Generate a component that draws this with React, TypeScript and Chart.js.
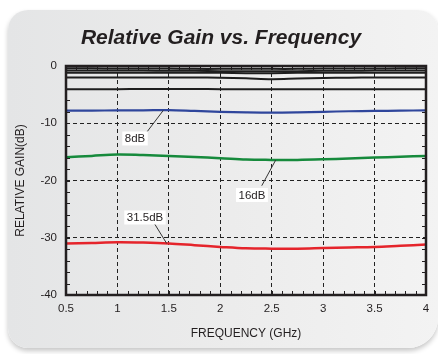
import React, { useEffect, useRef } from "react";
import { Chart, registerables } from "chart.js";

Chart.register(...registerables);

const TITLE = "Relative Gain vs. Frequency";
const X_TITLE = "FREQUENCY (GHz)";
const Y_TITLE = "RELATIVE GAIN(dB)";

const FREQ = [0.5, 0.75, 1.0, 1.25, 1.5, 1.75, 2.0, 2.25, 2.5, 2.75, 3.0, 3.25, 3.5, 3.75, 4.0];

const GAIN_05 = [-0.4, -0.4, -0.45, -0.45, -0.45, -0.5, -0.5, -0.5, -0.5, -0.5, -0.45, -0.45, -0.45, -0.4, -0.4];
const GAIN_1 = [-0.8, -0.8, -0.8, -0.8, -0.85, -0.85, -0.9, -0.9, -0.9, -0.9, -0.85, -0.85, -0.8, -0.8, -0.8];
const GAIN_15 = [-1.2, -1.2, -1.2, -1.2, -1.2, -1.2, -1.2, -1.25, -1.25, -1.2, -1.2, -1.2, -1.2, -1.2, -1.2];
const GAIN_2 = [-2.0, -2.0, -2.0, -2.0, -2.0, -2.0, -2.05, -2.15, -2.3, -2.2, -2.1, -2.05, -2.0, -2.0, -2.0];
const GAIN_4 = [-4.05, -4.05, -4.05, -4.0, -4.0, -4.0, -4.05, -4.05, -4.05, -4.05, -4.05, -4.05, -4.05, -4.05, -4.05];
const GAIN_8 = [-7.8, -7.8, -7.75, -7.75, -7.7, -7.85, -8.0, -8.1, -8.15, -8.1, -8.0, -7.9, -7.85, -7.8, -7.75];
const GAIN_16 = [-15.95, -15.7, -15.45, -15.55, -15.7, -15.9, -16.1, -16.35, -16.4, -16.4, -16.3, -16.15, -16.0, -15.85, -15.7];
const GAIN_315 = [-31.0, -30.9, -30.8, -30.85, -31.0, -31.3, -31.6, -31.85, -31.9, -31.9, -31.8, -31.7, -31.6, -31.4, -31.2];

const X_MIN = 0.5;
const X_MAX = 4;
const X_STEP = 0.5;
const X_MINOR = 0.1;
const Y_MIN = -40;
const Y_MAX = 0;
const Y_STEP = 10;
const Y_MINOR = 2;

const LABEL_TEXT = ["8dB", "16dB", "31.5dB"];
const LABEL_X = [1.171, 2.308, 1.268];
const LABEL_Y = [-12.66, -22.53, -26.46];
const LEADER_FROM_X = [1.29, 2.403, 1.358];
const LEADER_FROM_Y = [-11.45, -20.91, -27.48];
const LEADER_TO_X = [1.446, 2.539, 1.479];
const LEADER_TO_Y = [-7.75, -16.42, -31.0];

const FONT = "'Liberation Sans', Arial, Helvetica, sans-serif";
const INK = "#231f20";

function pts(ys: number[]) {
  return FREQ.map((x, i) => ({ x, y: ys[i] }));
}

const framePlugin = {
  id: "frameAndLabels",
  afterDatasetsDraw(chart: any) {
    const { ctx, chartArea, scales } = chart;
    const xs = scales.x;
    const ys = scales.y;
    const { left, right, top, bottom } = chartArea;
    ctx.save();
    ctx.strokeStyle = INK;
    ctx.lineWidth = 1;
    ctx.beginPath();
    const nx = Math.round((X_MAX - X_MIN) / X_MINOR);
    for (let i = 1; i < nx; i++) {
      const px = Math.round(xs.getPixelForValue(X_MIN + i * X_MINOR)) + 0.5;
      ctx.moveTo(px, bottom);
      ctx.lineTo(px, bottom - 4);
      ctx.moveTo(px, top);
      ctx.lineTo(px, top + 4);
    }
    const ny = Math.round((Y_MAX - Y_MIN) / Y_MINOR);
    for (let i = 1; i < ny; i++) {
      const py = Math.round(ys.getPixelForValue(Y_MIN + i * Y_MINOR)) + 0.5;
      ctx.moveTo(left, py);
      ctx.lineTo(left + 4, py);
      ctx.moveTo(right, py);
      ctx.lineTo(right - 4, py);
    }
    ctx.stroke();
    ctx.lineWidth = 2.5;
    ctx.strokeStyle = INK;
    ctx.strokeRect(left, top, right - left, bottom - top);
    ctx.font = `11.5px ${FONT}`;
    ctx.textAlign = "center";
    ctx.textBaseline = "middle";
    for (let i = 0; i < LABEL_TEXT.length; i++) {
      const fx = xs.getPixelForValue(LEADER_FROM_X[i]);
      const fy = ys.getPixelForValue(LEADER_FROM_Y[i]);
      const tx = xs.getPixelForValue(LEADER_TO_X[i]);
      const ty = ys.getPixelForValue(LEADER_TO_Y[i]);
      ctx.strokeStyle = "#333";
      ctx.lineWidth = 1;
      ctx.beginPath();
      ctx.moveTo(fx, fy);
      ctx.lineTo(tx, ty);
      ctx.stroke();
      const cx = xs.getPixelForValue(LABEL_X[i]);
      const cy = ys.getPixelForValue(LABEL_Y[i]);
      const w = ctx.measureText(LABEL_TEXT[i]).width + 5;
      const h = 14;
      ctx.fillStyle = "#ffffff";
      ctx.fillRect(cx - w / 2, cy - h / 2, w, h);
      ctx.fillStyle = INK;
      ctx.fillText(LABEL_TEXT[i], cx, cy + 0.5);
    }
    ctx.restore();
  },
};

export default function App() {
  const ref = useRef<HTMLCanvasElement | null>(null);

  useEffect(() => {
    document.body.style.margin = "0";
    const canvas = ref.current;
    if (!canvas) return;
    const line = (label: string, data: number[], color: string, width: number) => ({
      label,
      data: pts(data),
      borderColor: color,
      backgroundColor: color,
      borderWidth: width,
      pointRadius: 0,
      tension: 0.35,
      fill: false,
    });
    const chart = new Chart(canvas, {
      type: "line",
      data: {
        datasets: [
          line("0.5dB", GAIN_05, "#1e1e1e", 2),
          line("1dB", GAIN_1, "#1e1e1e", 2),
          line("1.5dB", GAIN_15, "#1e1e1e", 2),
          line("2dB", GAIN_2, "#1e1e1e", 2),
          line("4dB", GAIN_4, "#1e1e1e", 2),
          line("8dB", GAIN_8, "#2f469c", 2.2),
          line("16dB", GAIN_16, "#168a3c", 2.5),
          line("31.5dB", GAIN_315, "#e5242b", 2.5),
        ],
      },
      options: {
        responsive: false,
        animation: false,
        layout: { padding: { left: 16, right: 12, top: 0, bottom: 0 } },
        plugins: {
          legend: { display: false },
          tooltip: { enabled: false },
          title: {
            display: true,
            text: TITLE,
            color: INK,
            font: { family: FONT, size: 21, weight: "bold", style: "italic", lineHeight: 1.2 },
            padding: { top: 25.4, bottom: 15.4 },
          },
        },
        scales: {
          x: {
            type: "linear",
            min: X_MIN,
            max: X_MAX,
            afterFit: (s: any) => {
              s.height = 59;
            },
            ticks: {
              stepSize: X_STEP,
              color: INK,
              font: { family: FONT, size: 11.5 },
              padding: 7,
              maxRotation: 0,
              autoSkip: false,
              callback: (v: any) => String(Number(v)),
            },
            grid: {
              drawTicks: false,
              color: (c: any) =>
                c.tick && (c.tick.value === X_MIN || c.tick.value === X_MAX) ? "rgba(0,0,0,0)" : "#222",
              lineWidth: 1,
            },
            border: { display: false, dash: [4, 3] },
            title: {
              display: true,
              text: X_TITLE,
              color: INK,
              font: { family: FONT, size: 12 },
              padding: { top: 0, bottom: 12.8 },
            },
          },
          y: {
            type: "linear",
            min: Y_MIN,
            max: Y_MAX,
            afterFit: (s: any) => {
              s.width = 50;
            },
            ticks: {
              stepSize: Y_STEP,
              color: INK,
              font: { family: FONT, size: 11.5 },
              padding: 9,
            },
            grid: {
              drawTicks: false,
              color: (c: any) =>
                c.tick && (c.tick.value === Y_MIN || c.tick.value === Y_MAX) ? "rgba(0,0,0,0)" : "#222",
              lineWidth: 1,
            },
            border: { display: false, dash: [4, 3] },
            title: {
              display: true,
              text: Y_TITLE,
              color: INK,
              font: { family: FONT, size: 12, lineHeight: 0.6 },
              padding: { top: 1.4, bottom: 0 },
            },
          },
        },
      },
      plugins: [framePlugin],
    } as any);
    return () => chart.destroy();
  }, []);

  return (
    <div style={{ position: "relative", width: 438, height: 354, overflow: "hidden", background: "#ffffff" }}>
      <div
        style={{
          position: "absolute",
          left: 8,
          top: 10,
          width: 430,
          height: 338,
          borderRadius: "20px 20px 30px 20px",
          background: "linear-gradient(90deg, #e4e5e6 0%, #ebebeb 45%, #f3f3f3 100%)",
          boxShadow: "0 3px 5px rgba(0,0,0,0.22)",
        }}
      />
      <canvas
        ref={ref}
        width={438}
        height={354}
        style={{ position: "absolute", left: 0, top: 0, width: 438, height: 354, display: "block" }}
      />
    </div>
  );
}
